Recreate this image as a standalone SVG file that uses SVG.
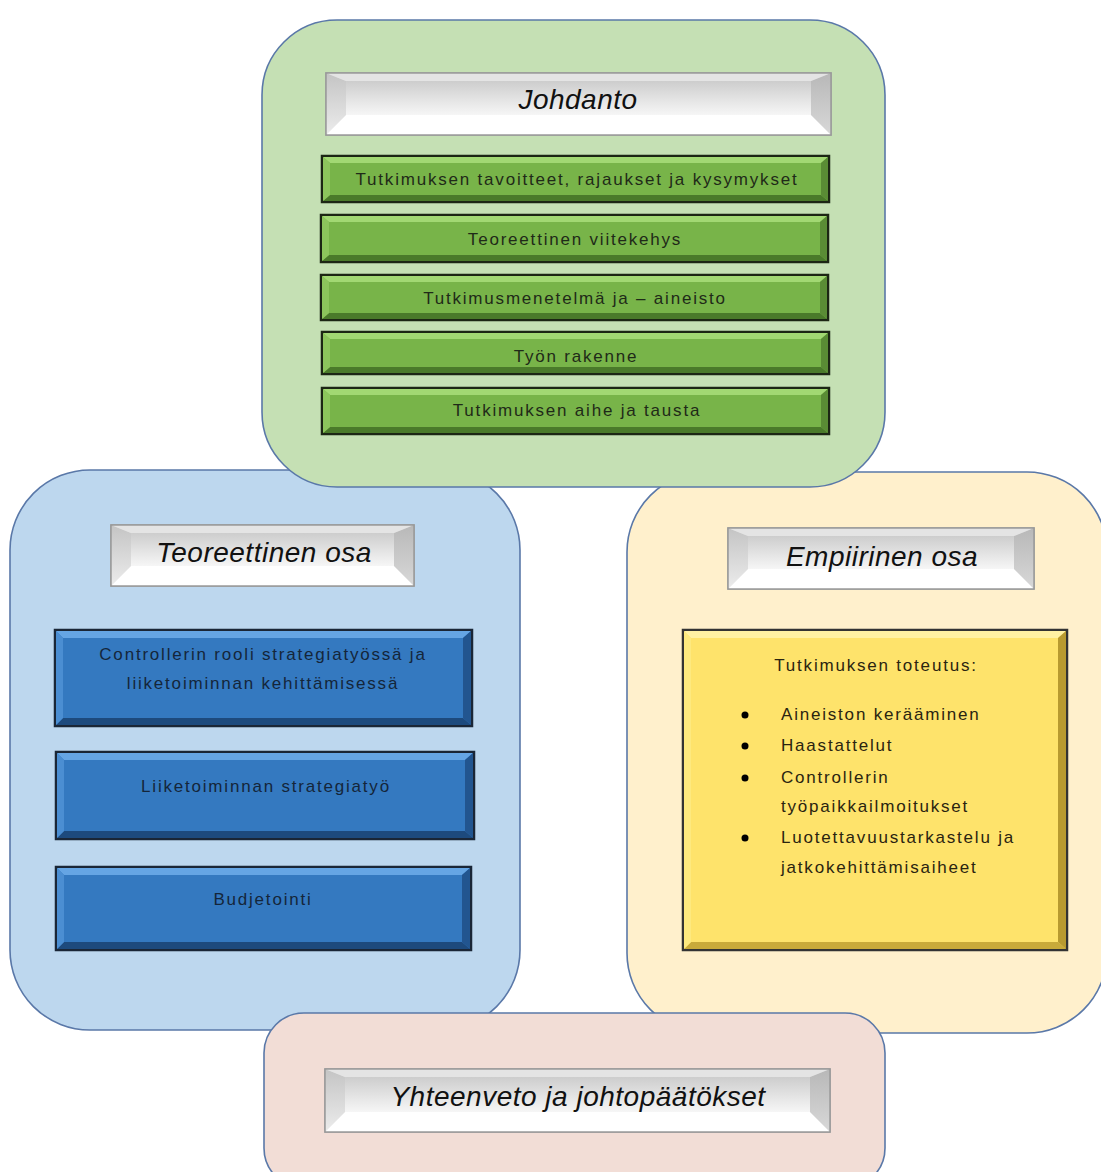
<svg xmlns="http://www.w3.org/2000/svg" width="1101" height="1172" viewBox="0 0 1101 1172">
<defs>
<linearGradient id="silverFace" x1="0" y1="0" x2="0" y2="1">
<stop offset="0" stop-color="#cdcdcd"/><stop offset="0.6" stop-color="#e6e6e6"/><stop offset="1" stop-color="#f6f6f6"/>
</linearGradient>
<linearGradient id="silverLeft" x1="0" y1="0" x2="0" y2="1">
<stop offset="0" stop-color="#c4c4c4"/><stop offset="1" stop-color="#ececec"/>
</linearGradient>
<linearGradient id="silverRight" x1="0" y1="0" x2="0" y2="1">
<stop offset="0" stop-color="#b8b8b8"/><stop offset="1" stop-color="#d8d8d8"/>
</linearGradient>
<style>
.cont{stroke:#5a78a8;stroke-width:1.6}
.title{font-family:"Liberation Sans",Arial,sans-serif;font-style:italic;font-size:28px;letter-spacing:0.5px;fill:#111;text-anchor:middle}
.lbl{font-family:"Liberation Sans",Arial,sans-serif;font-size:17px;letter-spacing:1.8px;text-anchor:middle}
.g{fill:#1f2a18}
.b{fill:#14263a}
.y{fill:#2a2410}
.yl{font-family:"Liberation Sans",Arial,sans-serif;font-size:17px;letter-spacing:1.8px;fill:#2a2410}
.sOut{fill:#f4f4f4;stroke:#9a9a9a;stroke-width:1.5}
.gOut{fill:#78b449;stroke:#1c2614;stroke-width:2.5}
.gTop{fill:#a2d873}.gBot{fill:#4a7a2a}.gL{fill:#8cc55c}.gR{fill:#5a8c35}
.bOut{fill:#3479c0;stroke:#1a2636;stroke-width:2.5}
.bTop{fill:#65a5e4}.bBot{fill:#1d4a7d}.bL{fill:#4b8ed2}.bR{fill:#22558f}
.yOut{fill:#fee36b;stroke:#333;stroke-width:2.5}
.yTop{fill:#fff1a3}.yBot{fill:#c9aa3a}.yL{fill:#fde97f}.yR{fill:#b89a30}
</style>
</defs>

<!-- Teoreettinen osa container -->
<g id="teoreettinen">
<rect class="cont" x="10" y="470" width="510" height="560" rx="80" ry="80" fill="#bdd7ee"/>
<g id="title-teoreettinen">
<rect class="sOut" x="111" y="525" width="303" height="61"/>
<polygon fill="url(#silverFace)" points="131,533 394,533 394,566 131,566"/>
<polygon fill="#e4e4e4" points="111,525 414,525 394,533 131,533"/>
<polygon fill="#ffffff" points="111,586 414,586 394,566 131,566"/>
<polygon fill="url(#silverLeft)" points="111,525 131,533 131,566 111,586"/>
<polygon fill="url(#silverRight)" points="414,525 394,533 394,566 414,586"/>
<rect x="111" y="525" width="303" height="61" fill="none" stroke="#9a9a9a" stroke-width="1.5"/>
<text class="title" x="264" y="562">Teoreettinen osa</text>
</g>
<g id="b1">
<rect class="bOut" x="55" y="630" width="417" height="96"/>
<polygon class="bTop" points="56,631 471,631 463,638 63,638"/>
<polygon class="bBot" points="56,725 471,725 463,718 63,718"/>
<polygon class="bL" points="56,631 63,638 63,718 56,725"/>
<polygon class="bR" points="471,631 463,638 463,718 471,725"/>
<text class="lbl b" x="263" y="660">Controllerin rooli strategiatyössä ja</text>
<text class="lbl b" x="263" y="689">liiketoiminnan kehittämisessä</text>
</g>
<g id="b2">
<rect class="bOut" x="56" y="752" width="418" height="87"/>
<polygon class="bTop" points="57,753 473,753 465,760 64,760"/>
<polygon class="bBot" points="57,838 473,838 465,831 64,831"/>
<polygon class="bL" points="57,753 64,760 64,831 57,838"/>
<polygon class="bR" points="473,753 465,760 465,831 473,838"/>
<text class="lbl b" x="266" y="792">Liiketoiminnan strategiatyö</text>
</g>
<g id="b3">
<rect class="bOut" x="56" y="867" width="415" height="83"/>
<polygon class="bTop" points="57,868 470,868 462,875 64,875"/>
<polygon class="bBot" points="57,949 470,949 462,942 64,942"/>
<polygon class="bL" points="57,868 64,875 64,942 57,949"/>
<polygon class="bR" points="470,868 462,875 462,942 470,949"/>
<text class="lbl b" x="263" y="905">Budjetointi</text>
</g>
</g>

<!-- Empiirinen osa container -->
<g id="empiirinen">
<rect class="cont" x="627" y="472" width="480" height="561" rx="80" ry="80" fill="#fff0cc"/>
<g id="title-empiirinen">
<rect class="sOut" x="728" y="528" width="306" height="61"/>
<polygon fill="url(#silverFace)" points="748,536 1014,536 1014,569 748,569"/>
<polygon fill="#e4e4e4" points="728,528 1034,528 1014,536 748,536"/>
<polygon fill="#ffffff" points="728,589 1034,589 1014,569 748,569"/>
<polygon fill="url(#silverLeft)" points="728,528 748,536 748,569 728,589"/>
<polygon fill="url(#silverRight)" points="1034,528 1014,536 1014,569 1034,589"/>
<rect x="728" y="528" width="306" height="61" fill="none" stroke="#9a9a9a" stroke-width="1.5"/>
<text class="title" x="882" y="566">Empiirinen osa</text>
</g>
<g id="y1">
<rect class="yOut" x="683" y="630" width="384" height="320"/>
<polygon class="yTop" points="684,631 1066,631 1058,638 691,638"/>
<polygon class="yBot" points="684,949 1066,949 1058,942 691,942"/>
<polygon class="yL" points="684,631 691,638 691,942 684,949"/>
<polygon class="yR" points="1066,631 1058,638 1058,942 1066,949"/>
<text class="lbl y" x="876" y="671">Tutkimuksen toteutus:</text>
<circle cx="745" cy="715" r="3.5" fill="#000"/>
<circle cx="745" cy="746" r="3.5" fill="#000"/>
<circle cx="745" cy="778" r="3.5" fill="#000"/>
<circle cx="745" cy="838" r="3.5" fill="#000"/>
<text class="yl" x="781" y="720">Aineiston kerääminen</text>
<text class="yl" x="781" y="751">Haastattelut</text>
<text class="yl" x="781" y="783">Controllerin</text>
<text class="yl" x="781" y="812">työpaikkailmoitukset</text>
<text class="yl" x="781" y="843">Luotettavuustarkastelu ja</text>
<text class="yl" x="781" y="873">jatkokehittämisaiheet</text>
</g>
</g>

<!-- Johdanto container -->
<g id="johdanto">
<rect class="cont" x="262" y="20" width="623" height="467" rx="75" ry="75" fill="#c5e0b4"/>
<g id="title-johdanto">
<rect class="sOut" x="326" y="73" width="505" height="62"/>
<polygon fill="url(#silverFace)" points="346,81 811,81 811,115 346,115"/>
<polygon fill="#e4e4e4" points="326,73 831,73 811,81 346,81"/>
<polygon fill="#ffffff" points="326,135 831,135 811,115 346,115"/>
<polygon fill="url(#silverLeft)" points="326,73 346,81 346,115 326,135"/>
<polygon fill="url(#silverRight)" points="831,73 811,81 811,115 831,135"/>
<rect x="326" y="73" width="505" height="62" fill="none" stroke="#9a9a9a" stroke-width="1.5"/>
<text class="title" x="578" y="109">Johdanto</text>
</g>
<g id="g1">
<rect class="gOut" x="322" y="156" width="507" height="46"/>
<polygon class="gTop" points="323,157 828,157 821,163 330,163"/>
<polygon class="gBot" points="323,201 828,201 821,195 330,195"/>
<polygon class="gL" points="323,157 330,163 330,195 323,201"/>
<polygon class="gR" points="828,157 821,163 821,195 828,201"/>
<text class="lbl g" x="577" y="185">Tutkimuksen tavoitteet, rajaukset ja kysymykset</text>
</g>
<g id="g2">
<rect class="gOut" x="321" y="215" width="507" height="47"/>
<polygon class="gTop" points="322,216 827,216 820,222 329,222"/>
<polygon class="gBot" points="322,261 827,261 820,255 329,255"/>
<polygon class="gL" points="322,216 329,222 329,255 322,261"/>
<polygon class="gR" points="827,216 820,222 820,255 827,261"/>
<text class="lbl g" x="575" y="245">Teoreettinen viitekehys</text>
</g>
<g id="g3">
<rect class="gOut" x="321" y="275" width="507" height="45"/>
<polygon class="gTop" points="322,276 827,276 820,282 329,282"/>
<polygon class="gBot" points="322,319 827,319 820,313 329,313"/>
<polygon class="gL" points="322,276 329,282 329,313 322,319"/>
<polygon class="gR" points="827,276 820,282 820,313 827,319"/>
<text class="lbl g" x="575" y="304">Tutkimusmenetelmä ja – aineisto</text>
</g>
<g id="g4">
<rect class="gOut" x="322" y="332" width="507" height="42"/>
<polygon class="gTop" points="323,333 828,333 821,339 330,339"/>
<polygon class="gBot" points="323,373 828,373 821,367 330,367"/>
<polygon class="gL" points="323,333 330,339 330,367 323,373"/>
<polygon class="gR" points="828,333 821,339 821,367 828,373"/>
<text class="lbl g" x="576" y="362">Työn rakenne</text>
</g>
<g id="g5">
<rect class="gOut" x="322" y="388" width="507" height="46"/>
<polygon class="gTop" points="323,389 828,389 821,395 330,395"/>
<polygon class="gBot" points="323,433 828,433 821,427 330,427"/>
<polygon class="gL" points="323,389 330,395 330,427 323,433"/>
<polygon class="gR" points="828,389 821,395 821,427 828,433"/>
<text class="lbl g" x="577" y="416">Tutkimuksen aihe ja tausta</text>
</g>
</g>

<!-- Yhteenveto container -->
<g id="yhteenveto">
<rect class="cont" x="264" y="1013" width="621" height="175" rx="40" ry="40" fill="#f2ddd6"/>
<g id="title-yhteenveto">
<rect class="sOut" x="325" y="1069" width="505" height="63"/>
<polygon fill="url(#silverFace)" points="345,1077 810,1077 810,1112 345,1112"/>
<polygon fill="#e4e4e4" points="325,1069 830,1069 810,1077 345,1077"/>
<polygon fill="#ffffff" points="325,1132 830,1132 810,1112 345,1112"/>
<polygon fill="url(#silverLeft)" points="325,1069 345,1077 345,1112 325,1132"/>
<polygon fill="url(#silverRight)" points="830,1069 810,1077 810,1112 830,1132"/>
<rect x="325" y="1069" width="505" height="63" fill="none" stroke="#9a9a9a" stroke-width="1.5"/>
<text class="title" x="578" y="1106">Yhteenveto ja johtopäätökset</text>
</g>
</g>

<g id="connectors"/>
</svg>
